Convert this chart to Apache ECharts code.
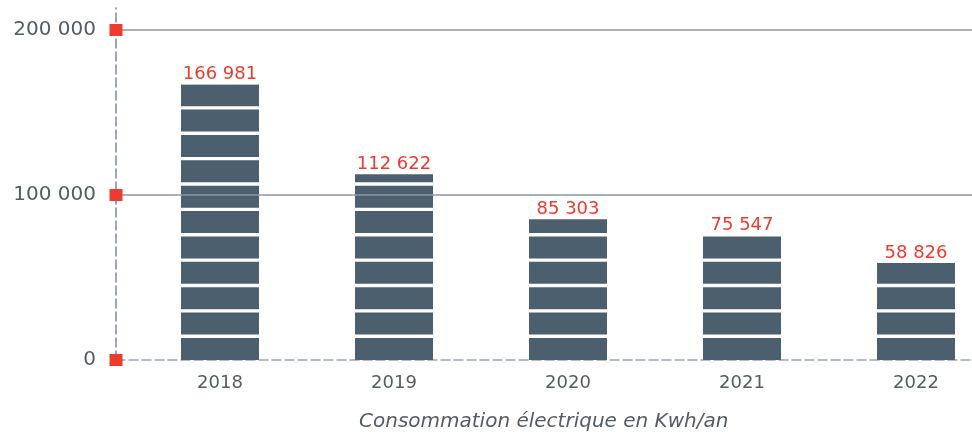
<!DOCTYPE html>
<html><head><meta charset="utf-8">
<script src="https://cdn.jsdelivr.net/npm/echarts@6/dist/echarts.min.js"></script>
<style>html,body{margin:0;padding:0;background:#fff;overflow:hidden;width:972px;height:432px}#c{width:1003px;height:432px}</style>
</head><body><div id="c"></div>
<script>
var categories = ['2018', '2019', '2020', '2021', '2022'];
var values = [166981, 112622, 85303, 75547, 58826];
var yTicks = [0, 100000, 200000];
var gridLines = [100000, 200000];
var xTitle = 'Consommation électrique en Kwh/an';

function fmt(v) { return String(v).replace(/\B(?=(\d{3})+(?!\d))/g, ' '); }

var FONT = 'DejaVu Sans';
var GREY = '#535d66';
var RED = '#ee3b2f';
var YMAX = 213333;

var chart = echarts.init(document.getElementById('c'), null, {renderer: 'canvas'});
chart.setOption({
  animation: false,
  backgroundColor: '#ffffff',
  title: {
    text: xTitle, left: 354, top: 407,
    textStyle: {fontFamily: FONT, fontStyle: 'italic', fontWeight: 'normal', fontSize: 20, color: GREY}
  },
  grid: [
    {left: 116, right: 31, top: 8, bottom: 72},
    {left: 133, right: 0, top: 8, bottom: 72}
  ],
  xAxis: [
    {gridIndex: 0, type: 'value', min: 0, max: 1,
     axisLine: {show: true, lineStyle: {color: '#9aa6b1', width: 1.5, type: [9, 4]}},
     axisTick: {show: false}, axisLabel: {show: false}, splitLine: {show: false}},
    {gridIndex: 1, type: 'category', data: categories,
     axisLine: {show: false}, axisTick: {show: false},
     axisLabel: {margin: 14, color: GREY, fontFamily: FONT, fontSize: 18}}
  ],
  yAxis: [
    {gridIndex: 0, type: 'value', min: 0, max: YMAX, interval: 100000,
     axisLine: {show: true, lineStyle: {color: '#7f8b97', width: 1.5, type: [9, 4]}},
     axisTick: {show: false}, splitLine: {show: false},
     axisLabel: {margin: 20, color: GREY, fontFamily: FONT, fontSize: 20, showMaxLabel: false,
       formatter: function (v) { return yTicks.indexOf(v) >= 0 ? fmt(v) : ''; }}},
    {gridIndex: 1, type: 'value', min: 0, max: YMAX, show: false}
  ],
  series: [
    {
      type: 'line', xAxisIndex: 0, yAxisIndex: 0, data: [], z: 1, silent: true,
      markLine: {
        silent: true, symbol: 'none', label: {show: false},
        lineStyle: {color: '#8a97a3', width: 1.5, type: 'solid'},
        data: gridLines.map(function (v) { return {yAxis: v}; })
      }
    },
    {
      type: 'pictorialBar', xAxisIndex: 1, yAxisIndex: 1, z: 3,
      data: values,
      symbol: 'rect', symbolRepeat: true, symbolClip: true,
      symbolSize: [78, 22], symbolMargin: 2.5, symbolPosition: 'start',
      itemStyle: {color: '#4b5f6e'},
      label: {show: false}
    },
    {
      type: 'bar', xAxisIndex: 1, yAxisIndex: 1, z: 4, silent: true,
      data: values, barWidth: 78,
      itemStyle: {color: 'rgba(0,0,0,0)'},
      label: {show: true, position: 'top', distance: 1, color: RED,
        fontFamily: FONT, fontSize: 18, formatter: function (p) { return fmt(p.value); }}
    },
    {
      type: 'scatter', xAxisIndex: 0, yAxisIndex: 0, z: 10, silent: true,
      symbol: 'rect', symbolSize: [13, 12], clip: false,
      itemStyle: {color: RED, opacity: 1},
      data: yTicks.map(function (v) { return [0, v]; })
    }
  ]
});
</script></body></html>
